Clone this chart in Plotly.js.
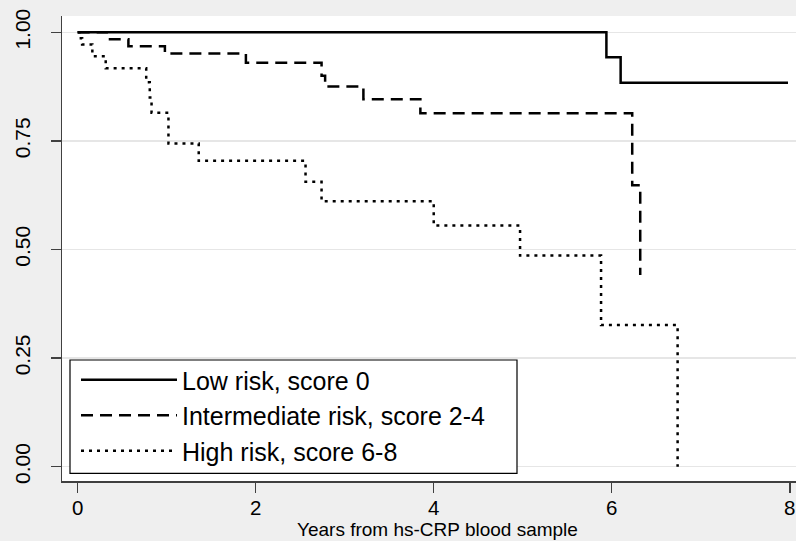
<!DOCTYPE html>
<html>
<head>
<meta charset="utf-8">
<script src="https://cdn.plot.ly/plotly-3.0.1.min.js"></script>
<style>
  html, body { margin: 0; padding: 0; background: #efefef; }
  #chart { width: 796px; height: 541px; }
</style>
</head>
<body>
<div id="chart"></div>
<script>
// Kaplan-Meier step data (time in years, survival probability)
const lowTime  = [0, 5.94, 6.10, 7.98];
const lowSurv  = [1.0, 0.9425, 0.884, 0.884];

const intTime  = [0, 0.34, 0.57, 0.98, 1.89, 2.74, 2.78, 3.21, 3.85, 6.23, 6.32];
const intSurv  = [1.0, 0.984, 0.968, 0.951, 0.930, 0.900, 0.875, 0.846, 0.8135, 0.648, 0.441];

const highTime = [0, 0.02, 0.05, 0.165, 0.315, 0.77, 0.81, 0.83, 1.02, 1.36, 2.56, 2.74, 4.00, 4.97, 5.88, 6.74];
const highSurv = [1.0, 0.986, 0.972, 0.945, 0.917, 0.885, 0.850, 0.815, 0.744, 0.704, 0.656, 0.611, 0.555, 0.486, 0.326, 0.0];

const seriesNames = ["Low risk, score 0", "Intermediate risk, score 2-4", "High risk, score 6-8"];
const xTickVals = [0, 2, 4, 6, 8];
const yTickVals = [0, 0.25, 0.5, 0.75, 1.0];
const xTitle = "Years from hs-CRP blood sample";

const FONT = "Liberation Sans, Arial, Helvetica, sans-serif";

// plot-area geometry in pixels (used only to place the legend frame / title)
const W = 796, H = 541, ML = 62, MR = 0, MT = 16, MB = 60;
const PW = W - ML - MR, PH = H - MT - MB;
const px2x = p => (p - ML) / PW;
const py2y = p => (H - MB - p) / PH;

const traces = [
  { x: lowTime, y: lowSurv, name: seriesNames[0], mode: "lines",
    line: { shape: "hv", color: "#000", width: 2.5, dash: "solid" } },
  { x: intTime, y: intSurv, name: seriesNames[1], mode: "lines",
    line: { shape: "hv", color: "#000", width: 2.5, dash: "12px,7px" } },
  { x: highTime, y: highSurv, name: seriesNames[2], mode: "lines",
    line: { shape: "hv", color: "#000", width: 2.5, dash: "3px,5px" } }
];

const layout = {
  width: W, height: H,
  margin: { l: ML, r: MR, t: MT, b: MB, pad: 0 },
  paper_bgcolor: "#efefef",
  plot_bgcolor: "#ffffff",
  font: { family: FONT, color: "#000", size: 21 },
  showlegend: true,
  legend: {
    x: px2x(76), y: py2y(357), xanchor: "left", yanchor: "top",
    bgcolor: "rgba(0,0,0,0)", borderwidth: 0,
    font: { family: FONT, size: 25, color: "#000" },
    itemwidth: 96,
    tracegroupgap: 0
  },
  shapes: [
    { type: "rect", xref: "paper", yref: "paper", layer: "above",
      x0: px2x(70), x1: px2x(517), y0: py2y(473.3), y1: py2y(360),
      fillcolor: "#ffffff", line: { color: "#000", width: 1.2 } }
  ],
  annotations: [
    { text: xTitle, xref: "paper", yref: "paper", x: px2x(437.5), y: py2y(541),
      xanchor: "center", yanchor: "bottom", showarrow: false, yshift: 0, borderpad: 0,
      font: { family: FONT, size: 19, color: "#000" } }
  ],
  xaxis: {
    range: [-0.176, 8.07],
    tickvals: xTickVals,
    ticks: "outside", ticklen: 10, tickwidth: 1.5, tickcolor: "#404040",
    showline: true, linecolor: "#404040", linewidth: 1.5,
    showgrid: false, zeroline: false,
    ticklabelstandoff: -2,
    tickfont: { family: FONT, size: 20.5, color: "#000" }
  },
  yaxis: {
    range: [-0.033, 1.0375],
    tickvals: yTickVals,
    tickformat: ".2f",
    tickangle: -90,
    ticks: "outside", ticklen: 10, tickwidth: 1.5, tickcolor: "#404040",
    showline: true, linecolor: "#404040", linewidth: 1.5,
    showgrid: true, gridcolor: "#e6e6e6", gridwidth: 1.5,
    zeroline: false,
    ticklabelstandoff: 12,
    tickfont: { family: FONT, size: 21, color: "#000" }
  }
};

Plotly.newPlot("chart", traces, layout, { displayModeBar: false, staticPlot: true });
</script>
</body>
</html>
